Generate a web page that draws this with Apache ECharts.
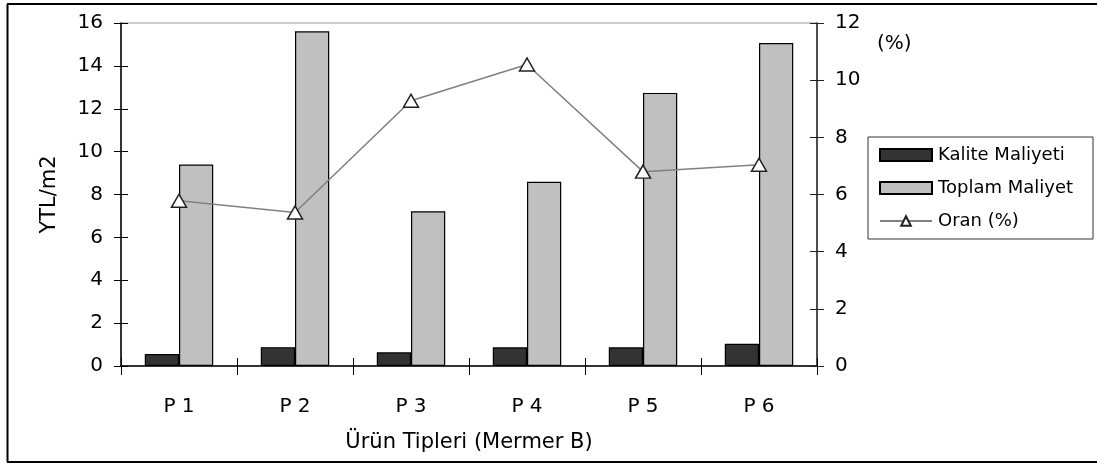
<!DOCTYPE html>
<html>
<head>
<meta charset="utf-8">
<script src="https://cdn.jsdelivr.net/npm/echarts@6/dist/echarts.min.js"></script>
<style>
html,body{margin:0;padding:0;background:#fff;}
#c{width:1097px;height:463px;}
</style>
</head>
<body>
<div id="c"></div>
<script>
const categories = ['P 1', 'P 2', 'P 3', 'P 4', 'P 5', 'P 6'];
const kaliteMaliyeti = [0.56, 0.88, 0.64, 0.87, 0.87, 1.04];
const toplamMaliyet = [9.40, 15.61, 7.22, 8.59, 12.74, 15.07];
const oran = [5.78, 5.37, 9.28, 10.55, 6.8, 7.04];
const leftTicks = {min: 0, max: 16, interval: 2};
const rightTicks = {min: 0, max: 12, interval: 2};

const FONT = 'DejaVu Sans';
const chart = echarts.init(document.getElementById('c'), null, {renderer: 'canvas'});

const hiddenCopy = (extra) => Object.assign({
  axisLabel: {show: false}, axisLine: {show: false}, splitLine: {show: false}
}, extra);

chart.setOption({
  animation: false,
  backgroundColor: '#fff',
  textStyle: {fontFamily: FONT},
  grid: {left: 121, right: 280, top: 23, bottom: 97, show: true, borderColor: '#999', borderWidth: 1, backgroundColor: 'transparent'},
  graphic: [
    {type: 'line', shape: {x1: 7.5, y1: 4, x2: 7.5, y2: 462}, style: {stroke: '#000', lineWidth: 2}, z: 100},
    {type: 'line', shape: {x1: 7, y1: 4, x2: 1097, y2: 4}, style: {stroke: '#000', lineWidth: 2}, z: 100},
    {type: 'line', shape: {x1: 7, y1: 462, x2: 1097, y2: 462}, style: {stroke: '#000', lineWidth: 2}, z: 100},
    {type: 'text', left: 877, top: 34, style: {text: '(%)', fontSize: 20, fontFamily: FONT, fill: '#000'}}
  ],
  legend: {
    orient: 'vertical', left: 868, top: 137, width: 224,
    padding: [9, 20, 9, 11], itemGap: 15,
    borderColor: '#333', borderWidth: 1,
    itemWidth: 52, itemHeight: 12,
    textStyle: {fontSize: 18, color: '#000', fontFamily: FONT, padding: [0, 0, 0, 1]},
    data: [
      {name: 'Kalite Maliyeti', icon: 'rect'},
      {name: 'Toplam Maliyet', icon: 'rect'},
      {name: 'Oran (%)'}
    ]
  },
  xAxis: [
    {type: 'category', data: categories,
      name: 'Ürün Tipleri (Mermer B)', nameLocation: 'middle', nameGap: 66,
      nameTextStyle: {fontSize: 21, color: '#000', fontFamily: FONT},
      axisLine: {lineStyle: {color: '#000', width: 1.5}},
      axisTick: {show: true, length: 9, lineStyle: {color: '#000'}},
      axisLabel: {fontSize: 20, color: '#000', margin: 31, fontFamily: FONT}},
    hiddenCopy({type: 'category', data: categories, position: 'bottom',
      axisTick: {show: true, inside: true, length: 8, lineStyle: {color: '#000'}}})
  ],
  yAxis: [
    {type: 'value', min: leftTicks.min, max: leftTicks.max, interval: leftTicks.interval, position: 'left',
      name: 'YTL/m2', nameLocation: 'middle', nameGap: 61, nameRotate: 90,
      nameTextStyle: {fontSize: 21, color: '#000', fontFamily: FONT},
      axisLine: {show: true, lineStyle: {color: '#000', width: 1.5}},
      axisTick: {show: true, length: 7, lineStyle: {color: '#000'}},
      axisLabel: {fontSize: 20, color: '#000', margin: 18, fontFamily: FONT},
      splitLine: {show: false}},
    {type: 'value', min: rightTicks.min, max: rightTicks.max, interval: rightTicks.interval, position: 'right',
      axisLine: {show: true, lineStyle: {color: '#222', width: 1.5}},
      axisTick: {show: true, length: 7, lineStyle: {color: '#222'}},
      axisLabel: {fontSize: 20, color: '#000', margin: 18, fontFamily: FONT},
      splitLine: {show: false}},
    hiddenCopy({type: 'value', min: leftTicks.min, max: leftTicks.max, interval: leftTicks.interval, position: 'left',
      axisTick: {show: true, inside: true, length: 7, lineStyle: {color: '#000'}}}),
    hiddenCopy({type: 'value', min: rightTicks.min, max: rightTicks.max, interval: rightTicks.interval, position: 'right',
      axisTick: {show: true, inside: true, length: 7, lineStyle: {color: '#222'}}})
  ],
  series: [
    {name: 'Kalite Maliyeti', type: 'bar', data: kaliteMaliyeti, barGap: '0%', barCategoryGap: '41%',
      itemStyle: {color: '#333333', borderColor: '#000', borderWidth: 1.2}},
    {name: 'Toplam Maliyet', type: 'bar', data: toplamMaliyet, barGap: '0%', barCategoryGap: '41%',
      itemStyle: {color: '#c0c0c0', borderColor: '#000', borderWidth: 1.2}},
    {name: 'Oran (%)', type: 'line', yAxisIndex: 1, data: oran,
      symbol: 'triangle', symbolSize: [15, 13],
      lineStyle: {color: '#808080', width: 1.5},
      itemStyle: {color: '#fff', borderColor: '#222', borderWidth: 1.5}, z: 10}
  ]
});
</script>
</body>
</html>
